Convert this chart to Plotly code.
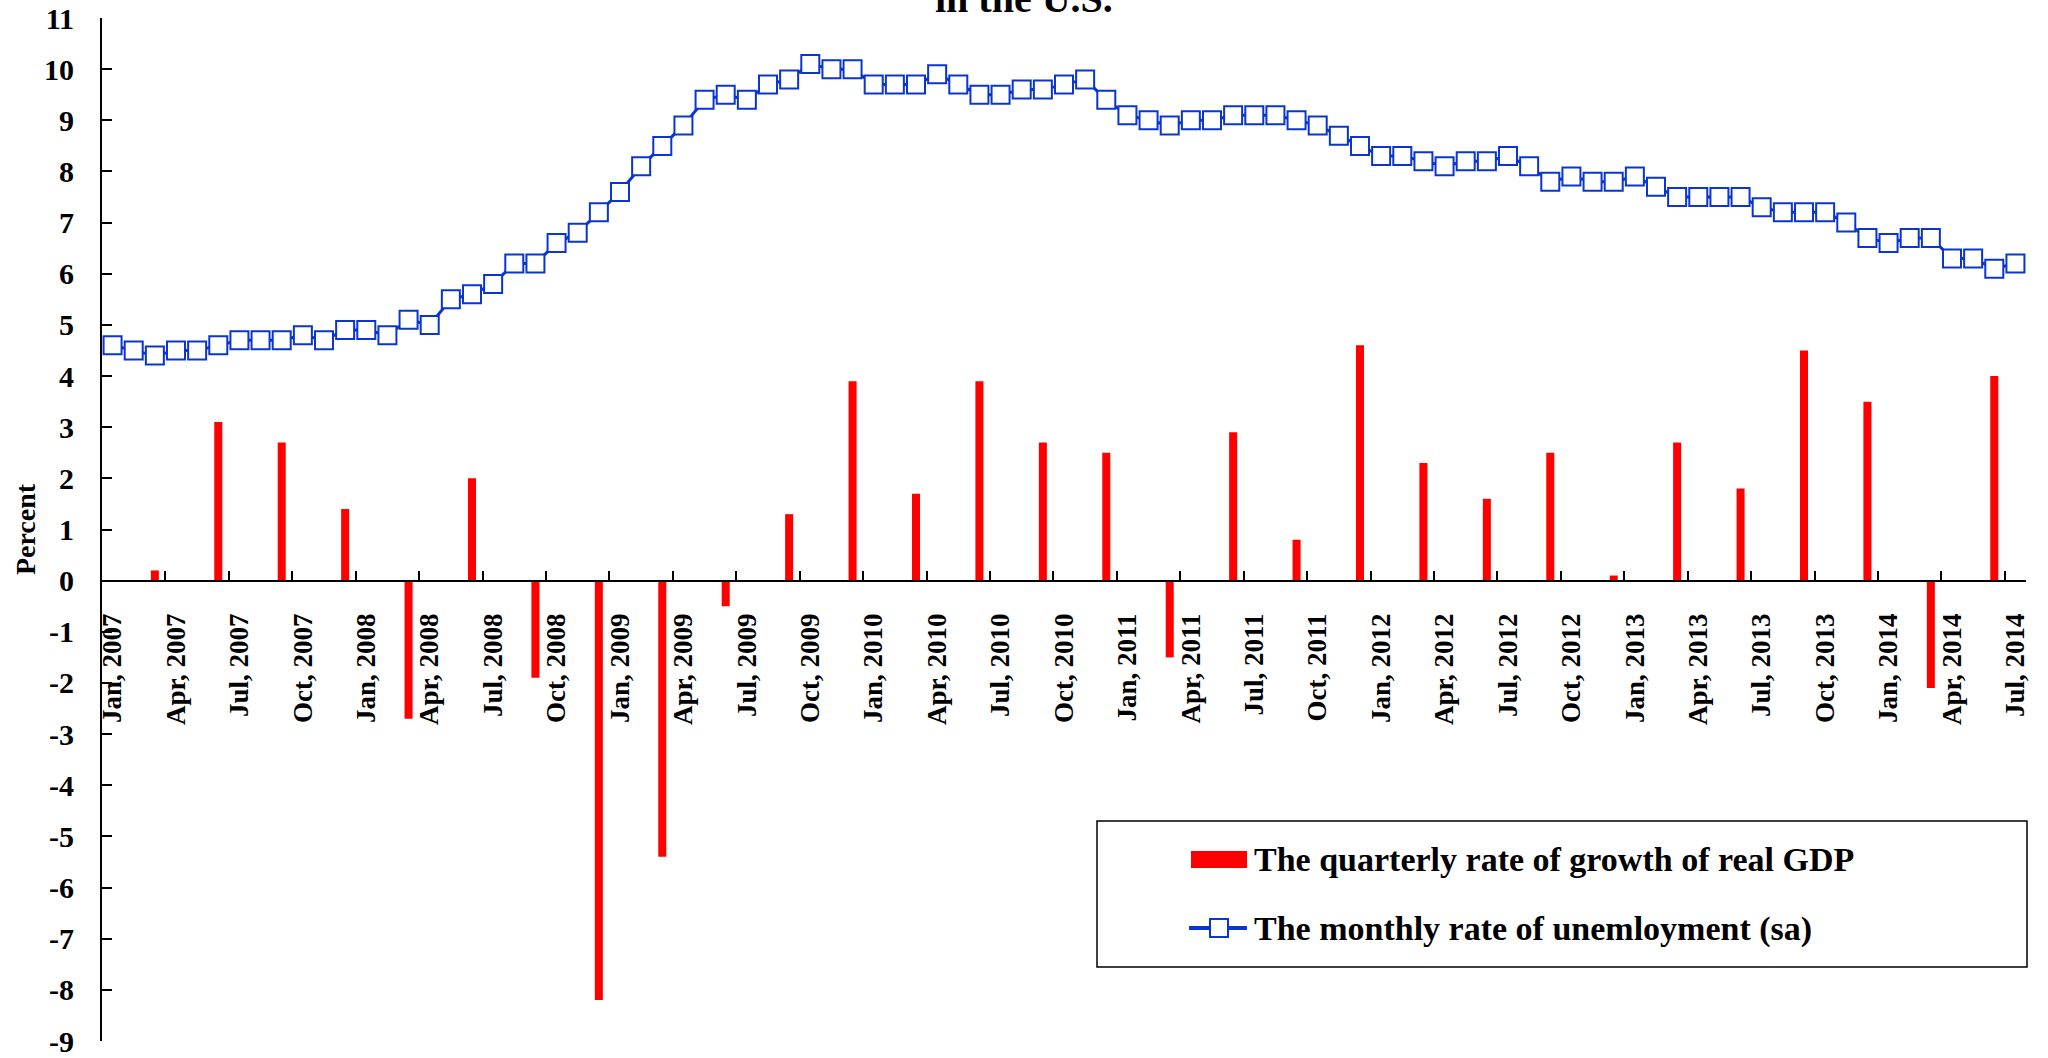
import plotly.graph_objects as go

# ---------------- data ----------------
month_abbr = ["Jan", "Feb", "Mar", "Apr", "May", "Jun",
              "Jul", "Aug", "Sep", "Oct", "Nov", "Dec"]
years = [2007, 2008, 2009, 2010, 2011, 2012, 2013, 2014]
months = [f"{m}, {y}" for y in years for m in month_abbr][:91]   # Jan 2007 .. Jul 2014

# monthly unemployment rate (sa), Jan 2007 .. Jul 2014
unemployment = [
    4.6, 4.5, 4.4, 4.5, 4.5, 4.6, 4.7, 4.7, 4.7, 4.8, 4.7, 4.9,   # 2007
    4.9, 4.8, 5.1, 5.0, 5.5, 5.6, 5.8, 6.2, 6.2, 6.6, 6.8, 7.2,   # 2008
    7.6, 8.1, 8.5, 8.9, 9.4, 9.5, 9.4, 9.7, 9.8, 10.1, 10.0, 10.0,  # 2009
    9.7, 9.7, 9.7, 9.9, 9.7, 9.5, 9.5, 9.6, 9.6, 9.7, 9.8, 9.4,   # 2010
    9.1, 9.0, 8.9, 9.0, 9.0, 9.1, 9.1, 9.1, 9.0, 8.9, 8.7, 8.5,   # 2011
    8.3, 8.3, 8.2, 8.1, 8.2, 8.2, 8.3, 8.1, 7.8, 7.9, 7.8, 7.8,   # 2012
    7.9, 7.7, 7.5, 7.5, 7.5, 7.5, 7.3, 7.2, 7.2, 7.2, 7.0, 6.7,   # 2013
    6.6, 6.7, 6.7, 6.3, 6.3, 6.1, 6.2,                            # 2014
]

# quarterly real GDP growth, plotted at the last month of each quarter
quarter_end_months = ["Mar", "Jun", "Sep", "Dec"]
gdp_months = [f"{m}, {y}" for y in years for m in quarter_end_months][:30]
gdp_growth = [
    0.2, 3.1, 2.7, 1.4,      # 2007
    -2.7, 2.0, -1.9, -8.2,   # 2008
    -5.4, -0.5, 1.3, 3.9,    # 2009
    1.7, 3.9, 2.7, 2.5,      # 2010
    -1.5, 2.9, 0.8, 4.6,     # 2011
    2.3, 1.6, 2.5, 0.1,      # 2012
    2.7, 1.8, 4.5, 3.5,      # 2013
    -2.1, 4.0,               # 2014
]

y_tick_vals = list(range(-9, 12))
y_tick_text = [str(v) for v in y_tick_vals]

gdp_name = "The quarterly rate of growth of real GDP"
unemp_name = "The monthly rate of unemloyment (sa)"
title_text = "in the U.S."

# ---------------- style ----------------
FONT = "Liberation Serif, Times New Roman, serif"
BLUE = "#0A35D0"
RED = "#FF0000"
W, H = 2048, 1058
L, R, T, B = 102, 22, 18, 17
PW, PH = W - L - R, H - T - B


def px_x(px):
    return (px - L) / PW


def px_y(py):
    return (H - B - py) / PH


fig = go.Figure()
fig.add_trace(go.Bar(
    x=gdp_months, y=gdp_growth, width=0.38, name=gdp_name,
    marker=dict(color=RED, line=dict(width=0)), showlegend=False,
))
fig.add_trace(go.Scatter(
    x=months, y=unemployment, mode="lines+markers", name=unemp_name,
    line=dict(color=BLUE, width=3),
    marker=dict(symbol="square", size=18, color="white",
                line=dict(color=BLUE, width=2)),
    showlegend=False,
))

fig.update_layout(
    template="none",
    width=W, height=H, autosize=False,
    margin=dict(l=L, r=R, t=T, b=B, pad=0, autoexpand=False),
    paper_bgcolor="white", plot_bgcolor="white",
    font=dict(family=FONT, color="black"),
    showlegend=False,
    xaxis=dict(
        type="category", categoryorder="array", categoryarray=months,
        range=[-0.5, len(months) - 0.5], automargin=False,
        tickmode="linear", tick0=0, dtick=3, tickson="boundaries",
        ticks="inside", ticklen=9, tickwidth=2, tickcolor="black",
        showline=True, linecolor="black", linewidth=2,
        anchor="free", position=0.45,
        tickangle=-90, ticklabelstandoff=21,
        tickfont=dict(family=FONT, size=27, color="black", weight="bold"),
        showgrid=False, zeroline=False,
    ),
    yaxis=dict(
        range=[-9, 11], tickmode="array", tickvals=y_tick_vals, ticktext=y_tick_text,
        automargin=False,
        ticks="inside", ticklen=10, tickwidth=2, tickcolor="black",
        showline=True, linecolor="black", linewidth=2,
        ticklabelstandoff=20,
        tickfont=dict(family=FONT, size=30, color="black", weight="bold"),
        title=dict(text="Percent", standoff=0,
                   font=dict(family=FONT, size=28, color="black", weight="bold")),
        showgrid=False, zeroline=False,
    ),
)

# title (second line, partly cut by the top edge in the original)
fig.add_annotation(
    text=title_text, xref="paper", yref="paper",
    x=px_x(1024), y=px_y(23), xanchor="center", yanchor="bottom",
    showarrow=False, font=dict(family=FONT, size=40, color="black", weight="bold"),
)

# custom legend box
fig.add_shape(type="rect", xref="paper", yref="paper",
              x0=px_x(1097), x1=px_x(2027), y0=px_y(967), y1=px_y(821),
              line=dict(color="black", width=1.5), fillcolor="white", layer="above")
fig.add_shape(type="rect", xref="paper", yref="paper",
              x0=px_x(1191), x1=px_x(1247), y0=px_y(868), y1=px_y(851),
              line=dict(width=0), fillcolor=RED, layer="above")
fig.add_shape(type="line", xref="paper", yref="paper",
              x0=px_x(1189), x1=px_x(1247), y0=px_y(928), y1=px_y(928),
              line=dict(color=BLUE, width=4), layer="above")
fig.add_shape(type="rect", xref="paper", yref="paper",
              x0=px_x(1210), x1=px_x(1228), y0=px_y(937), y1=px_y(919),
              line=dict(color=BLUE, width=2), fillcolor="white", layer="above")
fig.add_annotation(
    text=gdp_name, xref="paper", yref="paper", x=px_x(1252), y=px_y(860),
    xanchor="left", yanchor="middle", showarrow=False,
    font=dict(family=FONT, size=34, color="black", weight="bold"),
)
fig.add_annotation(
    text=unemp_name, xref="paper", yref="paper", x=px_x(1252), y=px_y(929),
    xanchor="left", yanchor="middle", showarrow=False,
    font=dict(family=FONT, size=34, color="black", weight="bold"),
)

fig.write_html("out.html", config={"displayModeBar": False},
               post_script="document.body.style.margin='0';")
